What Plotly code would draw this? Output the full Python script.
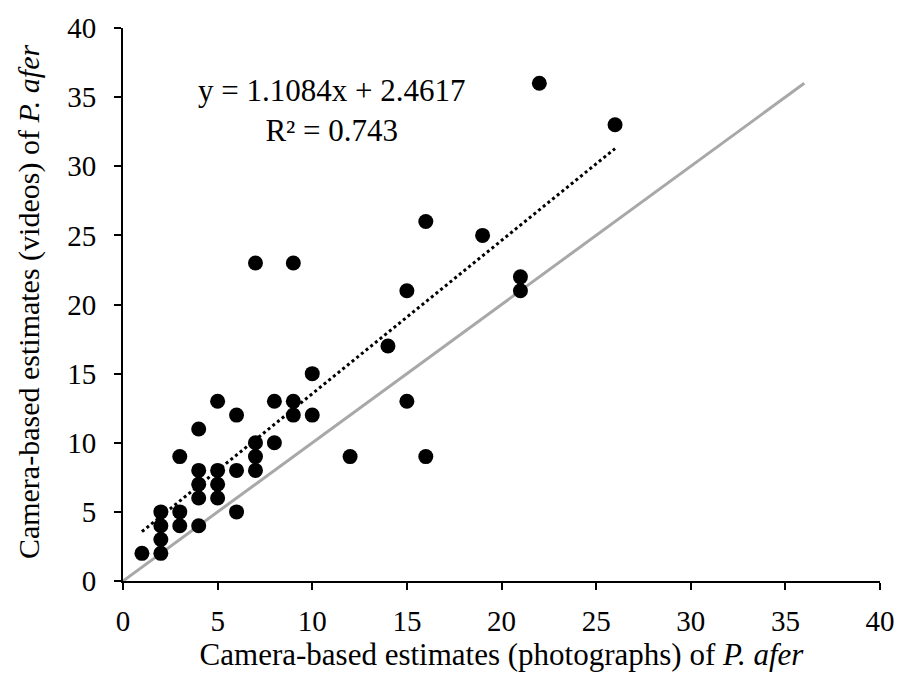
import plotly.graph_objects as go

# Paired camera-based counts of P. afer: photographs (x) vs videos (y)
photo_counts = [1, 2, 2, 2, 2, 3, 3, 3, 4, 4, 4, 4, 4, 5, 5, 5, 5, 6, 6, 6,
                7, 7, 7, 7, 8, 8, 9, 9, 9, 10, 10, 12, 14, 15, 15, 16, 16, 19,
                21, 21, 22, 26]
video_counts = [2, 2, 3, 4, 5, 4, 5, 9, 4, 6, 7, 8, 11, 6, 7, 8, 13, 5, 8, 12,
                8, 9, 10, 23, 10, 13, 12, 13, 23, 12, 15, 9, 17, 13, 21, 9, 26, 25,
                21, 22, 36, 33]

# Linear fit reported for the data
slope = 1.1084
intercept = 2.4617
r_squared = 0.743
fit_x = [min(photo_counts), max(photo_counts)]
fit_y = [slope * v + intercept for v in fit_x]

# 1:1 reference line
identity_x = [0, 36]
identity_y = [0, 36]

tick_vals = [0, 5, 10, 15, 20, 25, 30, 35, 40]

serif = "Liberation Serif, Times New Roman, serif"

fig = go.Figure()
fig.add_trace(go.Scatter(x=identity_x, y=identity_y, mode="lines",
                         line=dict(color="#a8a8a8", width=3),
                         showlegend=False, hoverinfo="skip"))
fig.add_trace(go.Scatter(x=fit_x, y=fit_y, mode="lines",
                         line=dict(color="black", width=3, dash="dot"),
                         showlegend=False, hoverinfo="skip"))
fig.add_trace(go.Scatter(x=photo_counts, y=video_counts, mode="markers",
                         marker=dict(color="black", size=15),
                         showlegend=False))

fig.add_annotation(
    x=11.0, y=34.0, xref="x", yref="y", showarrow=False,
    text=f"y = {slope}x + {intercept}<br>R² = {r_squared}",
    font=dict(family=serif, size=31, color="black"), align="center",
)

# Vertical axis title placed as a rotated annotation
fig.add_annotation(
    x=-0.125, y=0.505, xref="paper", yref="paper", showarrow=False,
    text="Camera-based estimates (videos) of <i>P. afer</i>", textangle=-90,
    xanchor="center", yanchor="middle",
    font=dict(family=serif, size=30, color="black"),
)

axis_common = dict(
    range=[0, 40], tickvals=tick_vals, showgrid=False, zeroline=False,
    showline=True, linecolor="black", linewidth=2,
    ticks="outside", ticklen=7, tickwidth=1.5, tickcolor="black",
    tickfont=dict(family=serif, size=29, color="black"),
)

fig.update_xaxes(**axis_common, ticklabelstandoff=6,
                 title=dict(text="Camera-based estimates (photographs) of <i>P. afer</i>",
                            font=dict(family=serif, size=31, color="black"),
                            standoff=8))
fig.update_yaxes(**axis_common, ticklabelstandoff=12)

fig.update_layout(
    width=907, height=680,
    margin=dict(l=123, r=25, t=27, b=99),
    plot_bgcolor="white", paper_bgcolor="white",
)

fig.write_html("out.html")
